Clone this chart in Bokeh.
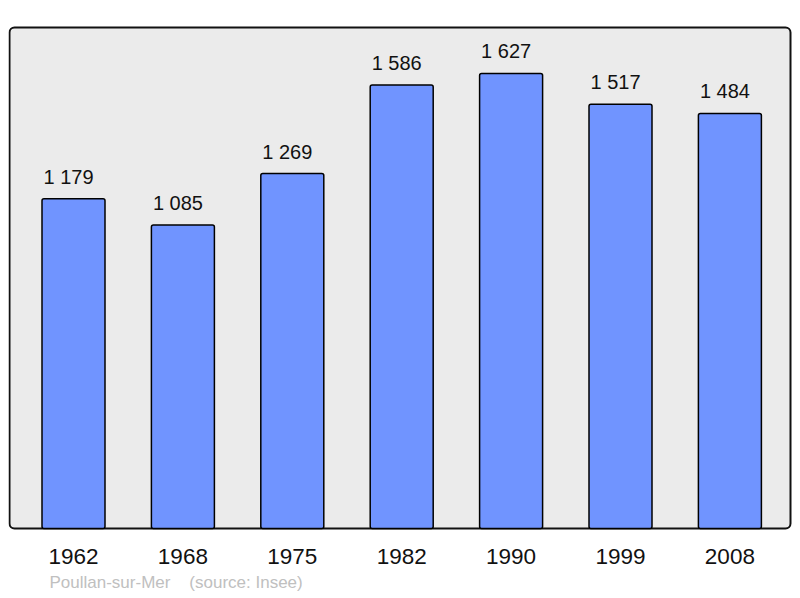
from bokeh.plotting import figure
from bokeh.models import Range1d, ColumnDataSource, Title, FixedTicker
from bokeh.core.properties import value
from bokeh.embed import file_html
from bokeh.resources import INLINE

years = ["1962", "1968", "1975", "1982", "1990", "1999", "2008"]
population = [1179, 1085, 1269, 1586, 1627, 1517, 1484]
source_text = "Poullan-sur-Mer\u00a0\u00a0\u00a0\u00a0(source: Insee)"

FONT = "Liberation Sans"
W, H = 800, 598
PX_X = 109.4          # pixels per category step
PX_Y = 0.2797         # pixels per inhabitant
# panel in canvas px
PL, PR, PT, PB = 9, 790, 27, 528
# frame in canvas px
FL, FR, FT, FB = 8, 792, 20, 532
X0 = 73               # canvas x of first bar centre

def xd(px):
    return (px - X0) / PX_X

def yd(py):
    return (PB - py) / PX_Y

p = figure(width=W, height=H, output_backend="svg", toolbar_location=None,
           x_range=Range1d(xd(FL), xd(FR)), y_range=Range1d(yd(FB), yd(FT)),
           min_border_left=FL, min_border_right=W - FR,
           min_border_top=FT, min_border_bottom=H - FB)
p.outline_line_color = None
p.background_fill_color = None
p.border_fill_color = "white"
p.grid.visible = False
p.yaxis.visible = False

# panel
p.quad(left=[xd(PL)], right=[xd(PR)], bottom=[yd(PB)], top=[yd(PT)],
       fill_color="#ebebeb", line_color="#111111", line_width=2, border_radius=5)

xs = list(range(len(years)))
src = ColumnDataSource(dict(x=xs, top=population,
                            label=[f"{v:,}".replace(",", " ") for v in population]))
p.vbar(x="x", top="top", bottom=0, width=63 / PX_X, source=src,
       fill_color="#7094ff", line_color="black", line_width=1.5, border_radius=2)
p.text(x="x", y="top", text="label", source=src, text_align="center",
       text_baseline="bottom", y_offset=-11, x_offset=-5, text_font=value(FONT),
       text_font_size="20px", text_color="#111111")

ax = p.xaxis[0]
ax.ticker = FixedTicker(ticks=xs)
ax.major_label_overrides = {i: y for i, y in enumerate(years)}
ax.axis_line_color = None
ax.major_tick_line_color = None
ax.minor_tick_line_color = None
ax.major_tick_out = 0
ax.major_tick_in = 0
ax.major_label_standoff = 16
ax.major_label_text_font = FONT
ax.major_label_text_font_size = "22.5px"
ax.major_label_text_color = "#111111"

p.add_layout(Title(text=source_text, align="left", offset=49 - FL,
                   text_font=FONT, text_font_size="17px", text_font_style="normal",
                   text_color="#c0c0c0", standoff=8), "below")

open("out.html", "w").write(file_html(p, INLINE))
